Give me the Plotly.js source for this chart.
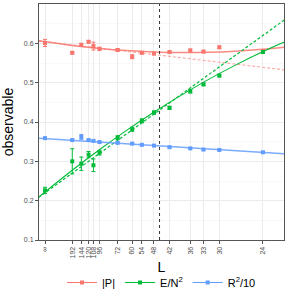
<!DOCTYPE html>
<html>
<head>
<meta charset="utf-8">
<script src="https://cdn.plot.ly/plotly-3.0.1.min.js"></script>
<style>html,body{margin:0;padding:0;background:#fff;}#chart{width:301px;height:301px;}</style>
</head>
<body>
<div id="chart"></div>
<script>
// Sizes L (x axis shows 1/L)
const Lvals = [Infinity, 192, 144, 120, 108, 96, 72, 60, 54, 48, 42, 36, 33, 30, 24];
const tickLabels = ["∞", "192", "144", "120", "108", "96", "72", "60", "54", "48", "42", "36", "33", "30", "24"];
// observables
const P    = [0.601, 0.576, 0.596, 0.604, 0.593, 0.586, 0.583, 0.566, 0.576, 0.574, 0.578, 0.582, 0.579, 0.590, 0.580];
const Perr = [0.009, 0.003, 0.004, 0.003, 0.010, 0.004, 0.003, 0.005, 0.003, 0.003, 0.003, 0.003, 0.003, 0.003, 0.003];
const E    = [0.226, 0.300, 0.294, 0.317, 0.290, 0.322, 0.360, 0.3815, 0.403, 0.424, 0.436, 0.478, 0.4956, 0.518, 0.578];
const Eerr = [0.008, 0.032, 0.017, 0.008, 0.016, 0.006, 0.005, 0.005, 0.005, 0.004, 0.004, 0.004, 0.003, 0.003, 0.003];
const R    = [0.359, 0.354, 0.362, 0.354, 0.352, 0.349, 0.347, 0.345, 0.342, 0.340, 0.336, 0.333, 0.330, 0.329, 0.323];
const Rerr = [0.002, 0.002, 0.006, 0.002, 0.002, 0.002, 0.002, 0.002, 0.002, 0.002, 0.002, 0.002, 0.002, 0.002, 0.002];
// fit curves (x = 1/L)
const fitX   = [-0.0012, 0.0052, 0.0104, 0.0156, 0.0208, 0.026, 0.0312, 0.0364, 0.0416, 0.0458];
const fitP   = [0.6065, 0.5945, 0.5870, 0.5816, 0.5782, 0.5768, 0.5774, 0.5801, 0.5848, 0.5901];
const fitE   = [0.209, 0.2773, 0.3295, 0.3787, 0.4247, 0.4677, 0.5077, 0.5446, 0.5785, 0.6036];
const linX   = [-0.0012, 0.0458];
const linP   = [0.6059, 0.5326];
const linE   = [0.2085, 0.6597];
const linR   = [0.359, 0.3195];
const cutInvL = 0.0219;

const x = Lvals.map(l => 1 / l);
const colP = '#F8766D', colE = '#00BA38', colR = '#619CFF';

function pts(y, err, col) {
  return {x: x, y: y, type: 'scatter', mode: 'markers', showlegend: false,
    marker: {color: col, size: 4, symbol: 'square'},
    error_y: {type: 'data', array: err, visible: true, color: col, thickness: 1, width: 2}};
}
function line(xs, ys, col, dash, w, op) {
  return {x: xs, y: ys, type: 'scatter', mode: 'lines', showlegend: false, opacity: op,
    line: {color: col, width: w, dash: dash, shape: 'spline'}};
}
function leg(name, col) {
  return {x: [null], y: [null], type: 'scatter', mode: 'lines+markers', name: name,
    line: {color: col, width: 1}, marker: {color: col, size: 4, symbol: 'square'}};
}

const data = [
  line(linX, linP, colP, '3px,2px', 1.2, 0.6),
  line(fitX, fitP, colP, 'solid', 1.5, 0.85),
  line(linX, linE, colE, '3px,2px', 1.2, 1),
  line(fitX, fitE, colE, 'solid', 1.1, 1),
  line(linX, linR, colR, 'solid', 1.5, 0.85),
  pts(P, Perr, colP),
  pts(E, Eerr, colE),
  pts(R, Rerr, colR),
  leg('|P|', colP),
  leg('E/N<sup>2</sup>', colE),
  leg('R<sup>2</sup>/10', colR)
];

const layout = {
  width: 301, height: 301,
  margin: {l: 39, r: 17, t: 4, b: 54},
  paper_bgcolor: '#fff', plot_bgcolor: '#fff',
  font: {family: 'Liberation Sans, Arial, sans-serif', color: '#000'},
  xaxis: {
    range: [-0.00115, 0.0457], tickvals: x, ticktext: tickLabels, tickangle: -90,
    tickfont: {size: 7, color: '#4D4D4D'}, showgrid: true, gridcolor: '#EBEBEB', gridwidth: 1,
    zeroline: false, showline: true, mirror: true, linecolor: '#555', linewidth: 1,
    ticks: 'outside', ticklen: 3, tickcolor: '#555',
    title: {text: 'L', font: {size: 14}, standoff: 4}
  },
  yaxis: {
    range: [0.1, 0.7], tickvals: [0.1, 0.2, 0.3, 0.4, 0.5, 0.6],
    ticktext: ['0.1', '0.2', '0.3', '0.4', '0.5', '0.6'],
    tickfont: {size: 7, color: '#4D4D4D'}, showgrid: true, gridcolor: '#EBEBEB', gridwidth: 1,
    minor: {tickvals: [0.15, 0.25, 0.35, 0.45, 0.55, 0.65], showgrid: true, gridcolor: '#F5F5F5', gridwidth: 0.6},
    zeroline: false, showline: true, mirror: true, linecolor: '#555', linewidth: 1,
    ticks: 'outside', ticklen: 3, tickcolor: '#555',
    title: {text: 'observable', font: {size: 14}, standoff: 6}
  },
  shapes: [{type: 'line', xref: 'x', yref: 'paper', x0: cutInvL, x1: cutInvL, y0: 0, y1: 1,
    line: {color: '#333', width: 1, dash: '3px,3px'}}],
  legend: {orientation: 'h', x: 0.5, xanchor: 'center', y: -0.18, yanchor: 'middle',
    font: {size: 11}, itemwidth: 30, tracegroupgap: 0, bgcolor: 'rgba(0,0,0,0)'},
  showlegend: true
};
Plotly.newPlot('chart', data, layout, {displayModeBar: false, staticPlot: true});
</script>
</body>
</html>
